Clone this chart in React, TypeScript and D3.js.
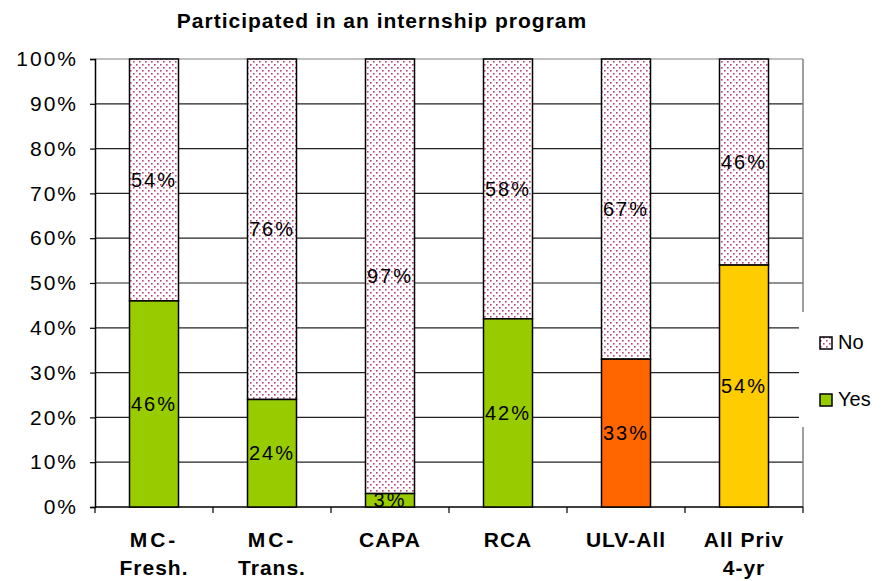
import React, { useEffect, useRef } from 'react';
import * as d3 from 'd3';

const categories = ['MC-|Fresh.', 'MC-|Trans.', 'CAPA', 'RCA', 'ULV-All', 'All Priv|4-yr'];
const yesValues = [46, 24, 3, 42, 33, 54];
const noValues = [54, 76, 97, 58, 67, 46];
const yesColors = ['#99cc00', '#99cc00', '#99cc00', '#99cc00', '#ff6600', '#ffcc00'];
const yTicks = [0, 10, 20, 30, 40, 50, 60, 70, 80, 90, 100];
const legendItems = ['No', 'Yes'];

function App() {
  const ref = useRef<SVGSVGElement>(null);

  useEffect(() => {
    const svg = d3.select(ref.current);
    svg.selectAll('*').remove();

    const left = 95, right = 803, top = 59, bottom = 507;
    const font = 'Arial, "Liberation Sans", sans-serif';

    const x = d3.scaleBand().domain(categories).range([left, right]).padding(0);
    const y = d3.scaleLinear().domain([0, 100]).range([bottom, top]);
    const barW = 49;

    // dotted fill for the "No" part
    const pat = svg.append('defs').append('pattern')
      .attr('id', 'dots')
      .attr('patternUnits', 'userSpaceOnUse')
      .attr('width', 6).attr('height', 6);
    pat.append('rect').attr('width', 6).attr('height', 6).attr('fill', '#fff');
    pat.append('rect').attr('x', 1).attr('y', 1).attr('width', 1.6).attr('height', 1.6).attr('fill', '#b8407a');
    pat.append('rect').attr('x', 4).attr('y', 4).attr('width', 1.6).attr('height', 1.6).attr('fill', '#b8407a');

    // title
    svg.append('text')
      .attr('x', 382).attr('y', 28)
      .attr('text-anchor', 'middle')
      .style('font', `bold 21px ${font}`)
      .style('letter-spacing', '1px')
      .text('Participated in an internship program');

    // grid
    svg.append('g').selectAll('line')
      .data(yTicks.filter(d => d > 0))
      .enter().append('line')
      .attr('x1', left).attr('x2', right)
      .attr('y1', d => y(d)).attr('y2', d => y(d))
      .attr('stroke', d => d === 100 ? '#808080' : '#222')
      .attr('stroke-width', 1.2);

    // right border
    svg.append('line')
      .attr('x1', right).attr('x2', right).attr('y1', top).attr('y2', bottom)
      .attr('stroke', '#808080').attr('stroke-width', 1.5);

    // y axis
    const yAxis = svg.append('g')
      .attr('transform', `translate(${left},0)`)
      .call(d3.axisLeft(y).tickValues(yTicks).tickSize(5).tickPadding(12).tickFormat(d => `${d}%`));
    yAxis.select('.domain').attr('stroke', '#000').attr('stroke-width', 1.5);
    yAxis.selectAll('.tick line').attr('stroke', '#000').attr('stroke-width', 1.2);
    yAxis.selectAll('text')
      .style('font', `21px ${font}`)
      .style('letter-spacing', '2px')
      .attr('fill', '#000');

    // x axis
    svg.append('line')
      .attr('x1', left).attr('x2', right).attr('y1', bottom).attr('y2', bottom)
      .attr('stroke', '#000').attr('stroke-width', 1.5);
    svg.append('g').selectAll('line')
      .data(d3.range(categories.length + 1))
      .enter().append('line')
      .attr('x1', i => left + i * x.bandwidth()).attr('x2', i => left + i * x.bandwidth())
      .attr('y1', bottom).attr('y2', bottom + 6)
      .attr('stroke', '#000').attr('stroke-width', 1.2);

    const groups = svg.append('g').selectAll('g')
      .data(categories)
      .enter().append('g');

    const bx = (d: string) => (x(d) as number) + x.bandwidth() / 2 - barW / 2;

    groups.append('rect')
      .attr('x', bx)
      .attr('y', (d, i) => y(100))
      .attr('width', barW)
      .attr('height', (d, i) => y(yesValues[i]) - y(100))
      .attr('fill', 'url(#dots)')
      .attr('stroke', '#000').attr('stroke-width', 1.5);

    groups.append('rect')
      .attr('x', bx)
      .attr('y', (d, i) => y(yesValues[i]))
      .attr('width', barW)
      .attr('height', (d, i) => bottom - y(yesValues[i]))
      .attr('fill', (d, i) => yesColors[i])
      .attr('stroke', '#000').attr('stroke-width', 1.5);

    const cx = (d: string) => (x(d) as number) + x.bandwidth() / 2;

    groups.append('text')
      .attr('x', cx)
      .attr('y', (d, i) => y(yesValues[i] + noValues[i] / 2) + 7)
      .attr('text-anchor', 'middle')
      .style('font', `20px ${font}`)
      .style('letter-spacing', '2px')
      .text((d, i) => `${noValues[i]}%`);

    groups.append('text')
      .attr('x', cx)
      .attr('y', (d, i) => y(yesValues[i] / 2) + 7)
      .attr('text-anchor', 'middle')
      .style('font', `20px ${font}`)
      .style('letter-spacing', '2px')
      .text((d, i) => `${yesValues[i]}%`);

    // category labels
    groups.each(function (d) {
      const lines = d.split('|');
      const t = d3.select(this).append('text')
        .attr('text-anchor', 'middle')
        .style('font', `bold 21px ${font}`);
      lines.forEach((ln, k) => {
        t.append('tspan')
          .attr('x', cx(d))
          .attr('y', 547 + k * 28)
          .style('letter-spacing', ln === 'MC-' ? '3px' : '1px')
          .text(ln);
      });
    });

    // legend
    const lg = svg.append('g');
    lg.append('rect')
      .attr('x', 799).attr('y', 312).attr('width', 90).attr('height', 115)
      .attr('fill', '#fff');
    legendItems.forEach((name, i) => {
      const ly = 343 + i * 57;
      lg.append('rect')
        .attr('x', 820).attr('y', ly - 6).attr('width', 12).attr('height', 12)
        .attr('fill', name === 'No' ? 'url(#dots)' : '#99cc00')
        .attr('stroke', '#000').attr('stroke-width', 1.5);
      lg.append('text')
        .attr('x', 838).attr('y', ly + 6)
        .style('font', `20px ${font}`)
        .text(name);
    });
  }, []);

  return (
    <svg ref={ref} width={895} height={581}
      style={{ position: 'absolute', left: 0, top: 0, background: '#fff' }} />
  );
}

export default App;
